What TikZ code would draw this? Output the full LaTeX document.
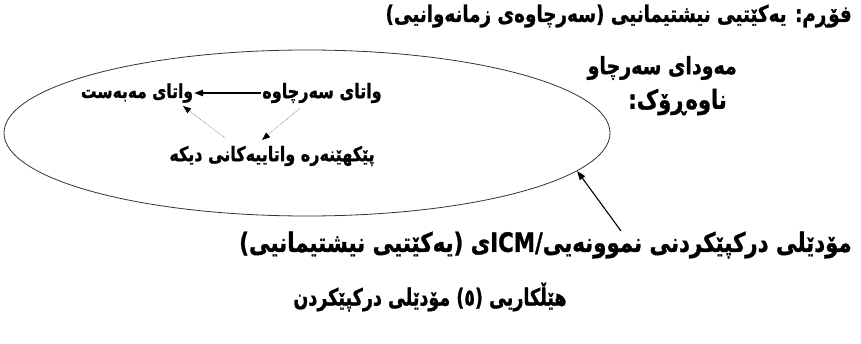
\documentclass[tikz,border=0pt]{standalone}
\usepackage{fontspec}
\newfontfamily\kfont[Script=Arabic, BoldFont={DejaVu Sans Bold}, BoldFeatures={FakeBold=1.2}]{DejaVu Sans}
\TeXXeTstate=1
\usetikzlibrary{arrows.meta,shapes.geometric}
\newcommand{\kfs}[1]{\kfont\bfseries\fontsize{#1}{#1}\selectfont}
\newcommand{\kt}[1]{\scalebox{1}[1.25]{\beginR #1\endR}}
\begin{document}
\begin{tikzpicture}[x=1pt,y=-1pt,
  txt/.style={font=\kfs{16}, inner sep=1pt},
  solidarr/.style={draw=black, line width=1.1pt, -{Triangle[length=9pt,width=6.5pt]}},
  dotarr/.style={draw=black!60, line width=0.6pt, densely dotted, -{Triangle[length=8pt,width=6pt,fill=black,color=black]}},
  ring/.style={draw=black!80, ellipse, line width=0.8pt, inner sep=0pt}]
\useasboundingbox[fill=white] (0,0) rectangle (861,344);
\node[ring, minimum width=606pt, minimum height=166pt] (ell) at (307,133) {};
\node[txt, font=\kfs{18.3}, anchor=east] (tit) at (853,16) {\kt{فۆڕم: یەکێتیی نیشتیمانیی (سەرچاوەی زمانەوانیی)}};
\node[txt, font=\kfs{19}, anchor=east] (mawda) at (738,68) {\kt{مەودای سەرچاو}};
\node[txt, font=\kfs{21}, anchor=east] (nawarok) at (728,102) {\kt{ناوەڕۆک:}};
\node[txt, font=\kfs{15.5}] (mabast) at (137,93) {\kt{واتای مەبەست}};
\node[txt] (sarchawa) at (322,93) {\kt{واتای سەرچاوە}};
\node[txt] (pek) at (272,156) {\kt{پێکهێنەرە واتاییەکانی دیکە}};
\node[txt, font=\kfs{21.3}, anchor=east] (icm) at (853,245) {\kt{مۆدێلی درکپێکردنی نموونەیی/\beginL ICM\endL ی (یەکێتیی نیشتیمانیی)}};
\node[txt, font=\kfs{17.5}] (cap) at (430,297) {\scalebox{1}[1.35]{\beginR هێڵکاریی (٥) مۆدێلی درکپێکردن\endR}};
\coordinate (a1s) at (225,138);
\coordinate (a1e) at (183,106);
\coordinate (a2s) at (300,108);
\coordinate (a2e) at (262,140);
\coordinate (a3s) at (621,231);
\draw[solidarr] (sarchawa.west) -- (mabast.east);
\draw[dotarr] (a1s) -- (a1e);
\draw[dotarr] (a2s) -- (a2e);
\draw[solidarr] (a3s) -- (ell.-8.8);
\end{tikzpicture}
\end{document}
